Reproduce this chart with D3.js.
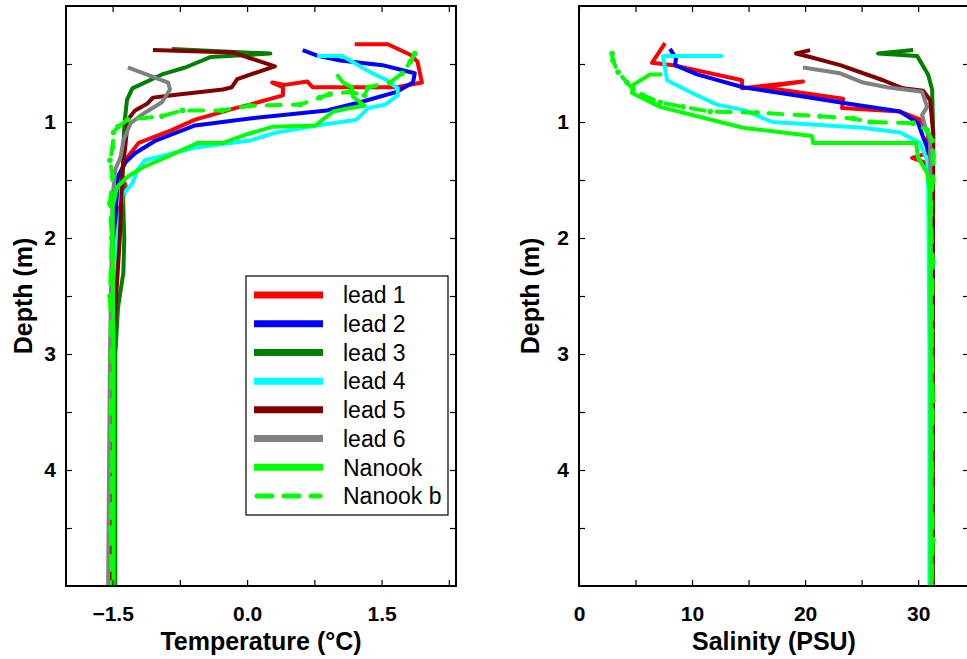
<!DOCTYPE html>
<html>
<head>
<meta charset="utf-8">
<script src="https://cdn.jsdelivr.net/npm/d3@7"></script>
<style>
  body { margin: 0; background: #fff; }
  svg { display: block; font-family: "Liberation Sans", Arial, Helvetica, sans-serif; }
  .tick text { font-weight: bold; font-size: 21px; fill: #000; }
  .tick line { stroke: #000; stroke-width: 1.2; }
</style>
</head>
<body>
<svg id="chart"></svg>
<script>
// series names, in legend order
const seriesNames = ["lead 1", "lead 2", "lead 3", "lead 4", "lead 5", "lead 6", "Nanook", "Nanook b"];

// temperature profiles: [temperature (°C), depth (m)]
const tempLead1 = [[1.20,0.33],[1.57,0.33],[1.82,0.42],[1.90,0.48],[1.95,0.66],[1.67,0.70],[0.73,0.70],[0.67,0.65],[0.42,0.68],[0.28,0.66],[0.40,0.70],[0.40,0.77],[0.03,0.85],[-0.13,0.88],[-0.58,0.98],[-0.84,1.07],[-1.21,1.18],[-1.33,1.30],[-1.41,1.44],[-1.35,1.56],[-1.44,1.80],[-1.50,2.2],[-1.52,3.0],[-1.53,4.0],[-1.53,5.0]];
const tempLead2 = [[0.62,0.38],[0.79,0.43],[1.04,0.47],[1.51,0.51],[1.87,0.58],[1.85,0.66],[1.67,0.74],[1.26,0.83],[0.89,0.90],[0.03,0.97],[-0.58,1.03],[-1.02,1.16],[-1.25,1.27],[-1.36,1.35],[-1.44,1.47],[-1.48,2.0],[-1.50,3.0],[-1.52,5.0]];
const tempLead3 = [[-0.84,0.37],[0.26,0.41],[-0.41,0.44],[-0.69,0.53],[-0.95,0.59],[-1.28,0.71],[-1.34,0.81],[-1.37,1.03],[-1.39,1.5],[-1.37,2.0],[-1.38,2.3],[-1.44,2.6],[-1.47,3.0],[-1.47,4.0],[-1.47,5.0]];
const tempLead4 = [[0.78,0.43],[1.06,0.43],[1.15,0.47],[1.37,0.57],[1.56,0.64],[1.68,0.71],[1.68,0.77],[1.54,0.85],[1.35,0.88],[1.22,0.98],[0.78,1.03],[0.33,1.09],[0.03,1.16],[-0.58,1.22],[-0.88,1.28],[-1.14,1.33],[-1.22,1.41],[-1.28,1.53],[-1.39,1.63],[-1.45,2.0],[-1.50,3.0],[-1.52,5.0]];
const tempLead5 = [[-1.05,0.38],[-0.16,0.40],[0.31,0.52],[-0.11,0.63],[-0.17,0.70],[-0.27,0.72],[-0.84,0.77],[-1.05,0.79],[-1.11,0.84],[-1.25,0.90],[-1.33,0.98],[-1.36,1.22],[-1.39,1.41],[-1.42,2.0],[-1.50,3.0],[-1.52,5.0]];
const tempLead6 = [[-1.33,0.53],[-0.88,0.66],[-0.86,0.72],[-0.95,0.83],[-1.14,0.92],[-1.30,1.01],[-1.38,1.16],[-1.41,1.30],[-1.47,1.41],[-1.50,1.65],[-1.53,3.0],[-1.55,5.0]];
const tempNanook = [[1.00,0.59],[1.07,0.66],[1.17,0.70],[1.18,0.78],[1.31,0.86],[1.15,0.88],[0.96,0.91],[0.76,1.03],[0.29,1.04],[-0.02,1.11],[-0.27,1.18],[-0.55,1.18],[-0.89,1.30],[-1.16,1.39],[-1.33,1.47],[-1.45,1.56],[-1.50,1.73],[-1.49,3.0],[-1.49,5.0]];
const tempNanookB = [[1.87,0.41],[1.82,0.48],[1.73,0.58],[1.59,0.66],[1.35,0.70],[1.31,0.77],[1.15,0.74],[0.92,0.76],[0.81,0.79],[0.59,0.85],[0.03,0.86],[-0.28,0.90],[-0.72,0.90],[-0.95,0.95],[-1.33,0.98],[-1.44,1.04],[-1.49,1.09],[-1.50,1.22],[-1.53,1.33],[-1.50,1.47],[-1.53,1.70],[-1.51,2.0],[-1.53,2.5],[-1.51,3.0],[-1.52,3.5],[-1.51,4.0],[-1.52,4.5],[-1.51,5.0]];

// salinity profiles: [salinity (PSU), depth (m)]
const salLead1 = [[7.61,0.32],[6.46,0.49],[8.32,0.51],[14.42,0.64],[14.42,0.71],[19.82,0.65],[16.28,0.70],[23.36,0.80],[23.27,0.88],[28.41,0.91],[30.18,0.98],[30.88,1.09],[30.80,1.27],[29.47,1.31],[30.62,1.35],[31.06,1.44],[31.1,3.0],[31.1,5.0]];
const salLead2 = [[8.05,0.37],[8.58,0.45],[8.50,0.51],[10.44,0.59],[14.51,0.70],[19.82,0.78],[23.72,0.84],[28.41,0.91],[30.0,1.01],[30.44,1.13],[30.80,1.22],[31.06,1.30],[31.1,3.0],[31.1,5.0]];
const salLead3 = [[29.56,0.38],[26.46,0.41],[29.91,0.43],[30.88,0.59],[31.24,0.72],[31.33,1.09],[31.3,3.0],[31.3,5.0]];
const salLead4 = [[12.74,0.43],[7.43,0.43],[7.79,0.64],[10.0,0.75],[12.21,0.85],[14.69,0.90],[17.08,1.0],[25.13,1.05],[28.41,1.09],[30.18,1.18],[30.80,1.33],[30.88,1.44],[31.0,3.0],[31.0,5.0]];
const salLead5 = [[20.44,0.38],[19.2,0.41],[20.44,0.44],[23.1,0.51],[26.9,0.64],[28.67,0.71],[30.44,0.73],[31.06,0.81],[31.33,1.09],[31.3,3.0],[31.3,5.0]];
const salLead6 = [[19.82,0.53],[23.1,0.58],[25.13,0.66],[27.26,0.70],[30.35,0.74],[30.8,0.87],[30.35,0.94],[30.62,1.04],[31.06,1.16],[31.2,3.0],[31.2,5.0]];
const salNanook = [[7.35,0.59],[6.28,0.59],[4.78,0.68],[4.69,0.75],[7.17,0.87],[14.51,1.05],[20.62,1.12],[20.71,1.18],[29.82,1.18],[30.0,1.31],[30.8,1.44],[31.06,1.59],[31.1,3.0],[31.1,5.0]];
const salNanookB = [[2.92,0.41],[3.0,0.47],[3.45,0.57],[4.25,0.66],[4.78,0.72],[5.66,0.77],[7.17,0.83],[9.2,0.87],[11.6,0.91],[15.75,0.92],[21.33,0.95],[24.25,0.97],[25.75,1.0],[29.56,1.01],[30.8,1.07],[31.24,1.16],[31.33,1.30],[31.3,1.5],[31.1,1.8],[31.3,2.2],[31.2,2.8],[31.3,3.4],[31.2,4.0],[31.3,4.6],[31.2,5.0]];

// ticks
const tempTicks = [-1.5, 0, 1.5];
const tempMinorTicks = [-0.75, 0.75, 2.25];
const salTicks = [0, 10, 20, 30];
const salMinorTicks = [5, 15, 25];
const depthTicks = [1, 2, 3, 4];
const depthMinorTicks = [0.5, 1.5, 2.5, 3.5, 4.5];

const tempSeries = [tempLead1, tempLead2, tempLead3, tempLead4, tempLead5, tempLead6, tempNanook, tempNanookB];
const salSeries = [salLead1, salLead2, salLead3, salLead4, salLead5, salLead6, salNanook, salNanookB];

document.addEventListener('DOMContentLoaded', function() {
  const width = 967, height = 659;
  const colors = ["#ff0000", "#0000ff", "#007f00", "#00ffff", "#800000", "#808080", "#00ff00", "#00ff00"];
  const top = 6, bottom = 586;

  const svg = d3.select("#chart")
    .attr("width", width)
    .attr("height", height);

  const y = d3.scaleLinear().domain([0, 5]).range([top, bottom]);

  function drawPanel(id, x, series, ticks, minorTicks, fmt, title, labelOffset) {
    const [x0, x1] = x.range();
    const g = svg.append("g").attr("id", id);

    g.append("clipPath").attr("id", id + "-clip")
      .append("rect")
      .attr("x", x0).attr("y", top)
      .attr("width", x1 - x0).attr("height", bottom - top);

    // lines
    const line = d3.line().x(d => x(d[0])).y(d => y(d[1]));
    const lines = g.append("g").attr("clip-path", `url(#${id}-clip)`);
    series.forEach((s, i) => {
      const dashed = i === 7;
      lines.append("path")
        .datum(s)
        .attr("d", line)
        .attr("fill", "none")
        .attr("stroke", colors[i])
        .attr("stroke-width", 4)
        .attr("stroke-linejoin", "round")
        .attr("stroke-linecap", dashed ? "round" : "butt")
        .attr("stroke-dasharray", dashed ? "14,12" : null);
      if (dashed) {
        lines.selectAll(".dot-" + id)
          .data(s)
          .enter()
          .append("circle")
          .attr("cx", d => x(d[0]))
          .attr("cy", d => y(d[1]))
          .attr("r", 2.8)
          .attr("fill", colors[i]);
      }
    });

    // axes, ticks pointing inward on every side
    const addAxis = (axis, transform) => {
      const a = g.append("g").attr("transform", transform).call(axis);
      a.select(".domain").remove();
      return a;
    };
    addAxis(d3.axisBottom(x).tickValues(ticks).tickSize(-6).tickPadding(20).tickFormat(fmt), `translate(0,${bottom})`);
    addAxis(d3.axisBottom(x).tickValues(minorTicks).tickSize(-6).tickFormat(""), `translate(0,${bottom})`);
    addAxis(d3.axisTop(x).tickValues(ticks.concat(minorTicks)).tickSize(-6).tickFormat(""), `translate(0,${top})`);
    addAxis(d3.axisLeft(y).tickValues(depthTicks).tickSize(-6).tickPadding(10).tickFormat(d3.format("d")), `translate(${x0},0)`);
    addAxis(d3.axisLeft(y).tickValues(depthMinorTicks).tickSize(-6).tickFormat(""), `translate(${x0},0)`);
    addAxis(d3.axisRight(y).tickValues(depthTicks.concat(depthMinorTicks)).tickSize(-6).tickFormat(""), `translate(${x1},0)`);

    g.append("rect")
      .attr("x", x0).attr("y", top)
      .attr("width", x1 - x0).attr("height", bottom - top)
      .attr("fill", "none")
      .attr("stroke", "#000")
      .attr("stroke-width", 2);

    g.append("text")
      .attr("x", (x0 + x1) / 2)
      .attr("y", 650)
      .attr("text-anchor", "middle")
      .attr("font-weight", "bold")
      .attr("font-size", 25)
      .text(title);

    g.append("text")
      .attr("transform", `translate(${x0 - labelOffset},${(top + bottom) / 2}) rotate(-90)`)
      .attr("text-anchor", "middle")
      .attr("font-weight", "bold")
      .attr("font-size", 25)
      .text("Depth (m)");
  }

  const tempX = d3.scaleLinear().domain([-2.02, 2.33]).range([66, 456]);
  const salX = d3.scaleLinear().domain([0, 34.5]).range([579, 969]);

  drawPanel("temp", tempX, tempSeries, tempTicks, tempMinorTicks, d3.format(".1f"), "Temperature (°C)", 34);
  drawPanel("sal", salX, salSeries, salTicks, salMinorTicks, d3.format("d"), "Salinity (PSU)", 40);

  // legend
  const legend = svg.append("g").attr("id", "legend");
  legend.append("rect")
    .attr("x", 246).attr("y", 276)
    .attr("width", 202).attr("height", 239)
    .attr("fill", "#fff")
    .attr("stroke", "#000")
    .attr("stroke-width", 1.2);

  const rowY = d3.scalePoint().domain(seriesNames).range([295, 496]);
  const rows = legend.selectAll(".row")
    .data(seriesNames)
    .enter()
    .append("g")
    .attr("class", "row")
    .attr("transform", d => `translate(0,${rowY(d)})`);

  rows.append("line")
    .attr("x1", (d, i) => i === 7 ? 257 : 254)
    .attr("x2", (d, i) => i === 7 ? 320 : 323)
    .attr("stroke", (d, i) => colors[i])
    .attr("stroke-width", (d, i) => i === 7 ? 5 : 7)
    .attr("stroke-linecap", (d, i) => i === 7 ? "round" : "butt")
    .attr("stroke-dasharray", (d, i) => i === 7 ? "15,12" : null);

  rows.append("text")
    .attr("x", 343)
    .attr("dy", "0.36em")
    .attr("font-size", 23)
    .text(d => d);
});
</script>
</body>
</html>
